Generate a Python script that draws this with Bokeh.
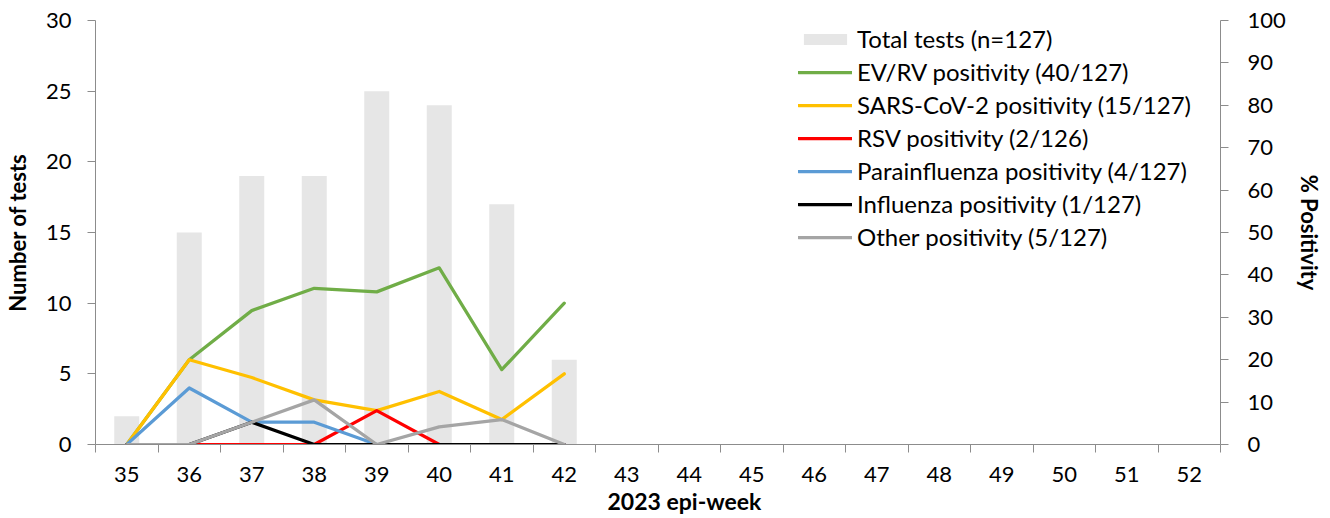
from bokeh.plotting import figure
from bokeh.models import Range1d, LinearAxis, FixedTicker, Legend, LegendItem, Title
from bokeh.embed import file_html
from bokeh.resources import INLINE

# ---- data ----
weeks = [35, 36, 37, 38, 39, 40, 41, 42]
all_weeks = list(range(35, 53))
total_tests = [2, 15, 19, 19, 25, 24, 17, 6]
ev_rv = [0, 20.0, 31.58, 36.84, 36.0, 41.67, 17.65, 33.33]
sars = [0, 20.0, 15.79, 10.53, 8.0, 12.5, 5.88, 16.67]
rsv = [0, 0, 0, 0, 8.0, 0, 0, 0]
para = [0, 13.33, 5.26, 5.26, 0, 0, 0, 0]
flu = [0, 0, 5.26, 0, 0, 0, 0, 0]
other = [0, 0, 5.26, 10.53, 0, 4.17, 5.88, 0]

labels = [
    "Total tests (n=127)",
    "EV/RV positivity (40/127)",
    "SARS-CoV-2 positivity (15/127)",
    "RSV positivity (2/126)",
    "Parainfluenza positivity (4/127)",
    "Influenza positivity (1/127)",
    "Other positivity (5/127)",
]

FONT = "Lato"
AX = "#8c8c8c"

p = figure(frame_width=1125, frame_height=424, output_backend="svg", toolbar_location=None,
           x_range=Range1d(34.5, 52.5), y_range=Range1d(0, 30),
           min_border_left=86, min_border_top=20, min_border_right=102, min_border_bottom=66)
p.extra_y_ranges = {"pct": Range1d(0, 100)}
p.grid.visible = False
p.outline_line_color = None
p.background_fill_color = "white"
p.border_fill_color = "white"

def style_axis(ax):
    ax.axis_line_color = AX
    ax.axis_line_width = 1
    ax.major_tick_line_color = AX
    ax.minor_tick_line_color = AX
    ax.major_tick_in = 0
    ax.major_tick_out = 8
    ax.minor_tick_in = 0
    ax.minor_tick_out = 0
    ax.major_label_text_font = FONT
    ax.major_label_text_font_size = "22px"
    ax.major_label_text_color = "black"
    ax.axis_label_text_font = FONT
    ax.axis_label_text_font_size = "22px"
    ax.axis_label_text_font_style = "bold"
    ax.axis_label_text_color = "black"

# x axis
xa = p.xaxis[0]
style_axis(xa)
xa.ticker = FixedTicker(ticks=all_weeks, minor_ticks=[w - 0.5 for w in all_weeks] + [52.5])
xa.major_tick_out = 0
xa.minor_tick_out = 8
xa.major_label_standoff = 14

# left axis
ya = p.yaxis[0]
style_axis(ya)
ya.ticker = FixedTicker(ticks=[0, 5, 10, 15, 20, 25, 30])
ya.axis_label = "Number of tests"
ya.major_label_standoff = 16
ya.axis_label_standoff = 12

# right axis
ra = LinearAxis(y_range_name="pct", axis_label="% Positivity")
style_axis(ra)
ra.ticker = FixedTicker(ticks=list(range(0, 101, 10)))
ra.major_label_standoff = 19
ra.axis_label_standoff = 7
p.add_layout(ra, "right")

# bars
bars = p.vbar(x=weeks, top=total_tests, width=0.4, fill_color="#e6e6e6", line_color=None)

series = [ev_rv, sars, rsv, para, flu, other]
colors = ["#70AD47", "#FFC000", "#FF0000", "#5B9BD5", "#000000", "#A5A5A5"]
renderers = [bars]
for s, c in zip(series, colors):
    r = p.line(weeks, s, y_range_name="pct", line_color=c, line_width=3.25,
               line_join="round", line_cap="round")
    renderers.append(r)

items = [LegendItem(label=l, renderers=[r]) for l, r in zip(labels, renderers)]
legend = Legend(items=items, location=(703, 193), padding=0, margin=0,
                border_line_color=None, background_fill_alpha=0,
                glyph_width=54, glyph_height=14, label_height=28, spacing=4,
                label_standoff=5, label_text_font=FONT, label_text_font_size="24px",
                label_text_color="black", label_text_baseline="middle")
p.add_layout(legend, "center")

# x axis title (offset to the right, as in the original)
xt = Title(text="2023 epi-week", align="left", offset=512, standoff=0,
           text_font=FONT, text_font_size="23px", text_font_style="bold", text_color="black")
p.add_layout(xt, "below")

open("out.html", "w").write(file_html(p, INLINE))
